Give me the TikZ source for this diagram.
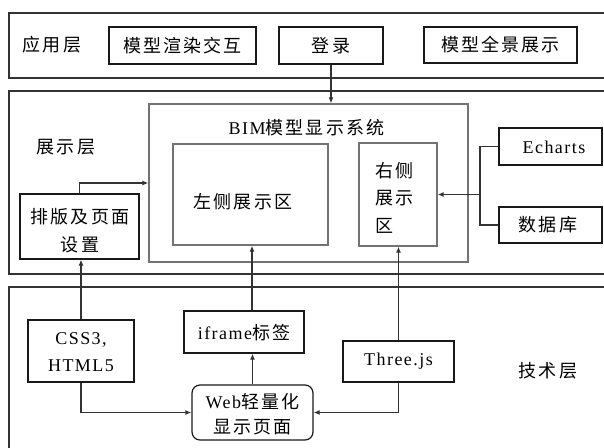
\documentclass[tikz,border=0pt]{standalone}
\usepackage{fontspec}
\setmainfont{Liberation Serif}[LetterSpace=8]
\newfontfamily\cjk{Noto Sans CJK SC}[LetterSpace=12]
\usetikzlibrary{arrows.meta}
\tikzset{
  frame/.style={draw=black!80, line width=1.3pt},
  graybox/.style={draw=black!55, line width=1.3pt, inner sep=0pt},
  box/.style={draw=black!90, line width=1.2pt, inner sep=0pt},
  txt/.style={font=\fontsize{18}{26}\selectfont, inner sep=0pt},
  con/.style={draw=black!80, line width=1.2pt},
  arr/.style={con, -{Latex[length=6pt,width=5pt]}},
}
\begin{document}
\begin{tikzpicture}[x=1pt,y=-1pt]
\useasboundingbox (0,0) rectangle (604,447);
% layers
\draw[frame] (612,13) -- (9,13) -- (9,78) -- (612,78);
\draw[frame] (612,91) -- (9,91) -- (9,274) -- (612,274);
\draw[frame] (612,287) -- (9,287) -- (9,450);
% application layer
\node[txt] (app) at (52,45) {\cjk 应用层};
\node[box, minimum width=147pt, minimum height=37pt] (mx) at (182.5,45.5) {};
\node[txt] at (mx) {\cjk 模型渲染交互};
\node[box, minimum width=104pt, minimum height=37pt] (login) at (331,45.5) {};
\node[txt] at (login) {\cjk 登录};
\node[box, minimum width=153pt, minimum height=36pt] (qj) at (500.5,45) {};
\node[txt] at (qj) {\cjk 模型全景展示};
% display layer
\node[txt] (disp) at (66,147) {\cjk 展示层};
\node[graybox, minimum width=319pt, minimum height=158pt] (bim) at (308.5,183) {};
\node[txt] (bimt) at (306.5,128) {BIM{\cjk 模型显示系统}};
\node[graybox, minimum width=155pt, minimum height=101pt] (left) at (250.5,194.5) {};
\node[txt] at (243,202) {\cjk 左侧展示区};
\node[graybox, minimum width=78pt, minimum height=103pt] (right) at (398,194.5) {};
\node[txt, align=left, anchor=north west, font=\fontsize{18}{27.5}\selectfont] (rt) at (375,162) {\cjk 右侧\\\cjk 展示\\\cjk 区};
\node[box, minimum width=103pt, minimum height=37pt] (ech) at (550.5,146.5) {};
\node[txt] at (554,147) {Echarts};
\node[box, minimum width=103pt, minimum height=36pt] (db) at (550.5,225) {};
\node[txt] at (548,225) {\cjk 数据库};
\node[box, minimum width=119pt, minimum height=65pt] (pb) at (79.5,226.5) {};
\node[txt, align=center, font=\fontsize{18}{28}\selectfont] at (80,231) {\cjk 排版及页面\\\cjk 设置};
% technical layer
\node[box, minimum width=106pt, minimum height=62pt] (css) at (81,351) {};
\node[txt, align=center, font=\fontsize{18}{27}\selectfont] at (81,352) {CSS3,\\HTML5};
\node[box, minimum width=120pt, minimum height=42pt] (ifr) at (244,332) {};
\node[txt] at (244,333) {iframe{\cjk 标签}};
\node[box, rounded corners=8pt, minimum width=121pt, minimum height=55pt] (web) at (252.5,412.5) {};
\node[txt, align=center, font=\fontsize{18}{25}\selectfont] at (252.5,414) {Web{\cjk 轻量化}\\\cjk 显示页面};
\node[box, minimum width=111pt, minimum height=41pt] (three) at (398.5,361.5) {};
\node[txt] at (398.5,361) {Three.js};
\node[txt] (tech) at (548,371) {\cjk 技术层};
% connectors
\draw[arr] (login.south) -- (login.south |- bim.north);
\draw[arr] (pb.north) |- (bim.west);
\coordinate (j) at (480,194.5);
\draw[con] (ech.west) -| (j);
\draw[con] (db.west) -| (j);
\draw[arr] (j) -- (right.east |- j);
\draw[arr] (css.north) -- (css.north |- pb.south);
\draw[arr] (css.south) |- (web.west);
\coordinate (ix) at (252,0);
\draw[arr] (web.north) -- (web.north |- ifr.south);
\draw[arr] (ix |- ifr.north) -- (ix |- left.south);
\draw[arr] (three.north) -- (three.north |- right.south);
\draw[arr] (three.south) |- (web.east);
\end{tikzpicture}
\end{document}
